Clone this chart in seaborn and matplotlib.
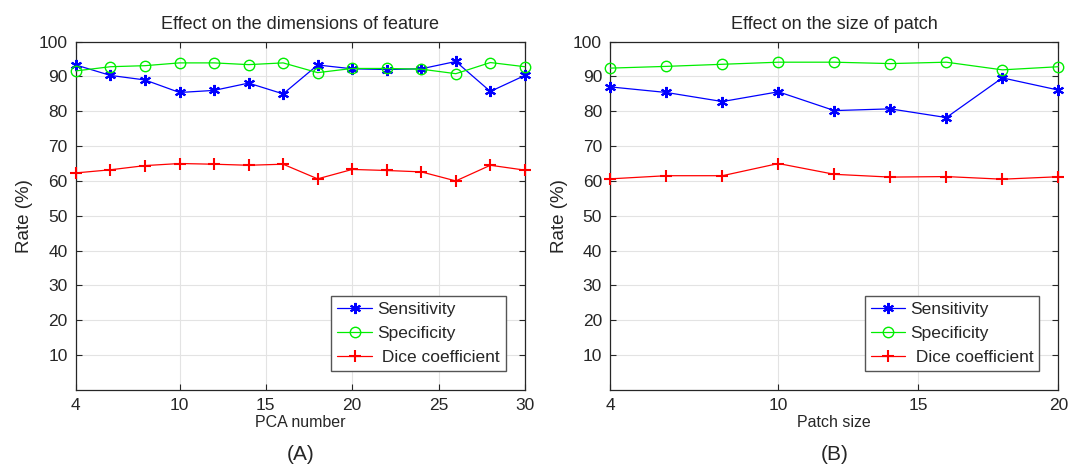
import numpy as np
import pandas as pd
import matplotlib
matplotlib.use("Agg")
import matplotlib.pyplot as plt
import seaborn as sns

# Values
pca_number = [4, 6, 8, 10, 12, 14, 16, 18, 20, 22, 24, 26, 28, 30]
pca_sensitivity = [93.3, 90.3, 89.0, 85.4, 86.0, 88.1, 85.0, 93.3, 92.2, 92.0, 92.2, 94.3, 85.7, 90.3]
pca_specificity = [91.6, 92.8, 93.1, 93.9, 93.9, 93.4, 93.9, 91.1, 92.3, 92.3, 92.1, 90.8, 94.0, 92.8]
pca_dice = [62.3, 63.2, 64.4, 65.0, 64.8, 64.5, 64.8, 60.6, 63.3, 63.0, 62.6, 60.0, 64.5, 63.1]

patch_size = [4, 6, 8, 10, 12, 14, 16, 18, 20]
patch_sensitivity = [87.0, 85.4, 82.8, 85.6, 80.2, 80.7, 78.2, 89.6, 86.1]
patch_specificity = [92.4, 92.9, 93.5, 94.1, 94.1, 93.7, 94.1, 91.9, 92.8]
patch_dice = [60.6, 61.5, 61.5, 65.0, 61.9, 61.1, 61.25, 60.5, 61.2]

series_names = ["Sensitivity", "Specificity", " Dice coefficient"]
pca_ticks = [4, 10, 15, 20, 25, 30]
patch_ticks = [4, 10, 15, 20]
rate_ticks = [10, 20, 30, 40, 50, 60, 70, 80, 90, 100]

sns.set_style("ticks")
plt.rcParams["font.family"] = ["Liberation Sans", "DejaVu Sans"]

fig = plt.figure(figsize=(10.69, 4.68), dpi=100)
ax_a = fig.add_axes([0.071, 0.167, 0.420, 0.744])
ax_b = fig.add_axes([0.571, 0.167, 0.419, 0.744])

styles = [
    dict(color="#0000ff", marker=(6, 2, 0), markersize=8, markeredgewidth=1.5,
         markeredgecolor="#0000ff"),
    dict(color="#00ee00", marker="o", markersize=7.5, markerfacecolor="none",
         markeredgewidth=1.0, markeredgecolor="#00ee00"),
    dict(color="#ff0000", marker="+", markersize=9, markeredgewidth=1.5,
         markeredgecolor="#ff0000"),
]


def draw_panel(ax, x, sens, spec, dice, ticks, title, xlabel, tag):
    df = pd.DataFrame({"x": x, series_names[0]: sens, series_names[1]: spec, series_names[2]: dice})
    for name, st in zip(series_names, styles):
        sns.lineplot(data=df, x="x", y=name, ax=ax, label=name, linewidth=0.9,
                     clip_on=False, zorder=3, **st)
    ax.set_xlim(x[0], x[-1])
    ax.set_ylim(0, 100)
    ax.set_xticks(ticks)
    ax.set_yticks(rate_ticks)
    ax.grid(True, color="#e3e3e3", linewidth=0.8)
    ax.set_axisbelow(True)
    ax.tick_params(direction="in", top=True, right=True, labelsize=12.5, length=4,
                   color="#262626", pad=6)
    for sp in ax.spines.values():
        sp.set_color("#262626")
        sp.set_linewidth(0.9)
    ax.set_title(title, fontsize=13, pad=9)
    ax.set_xlabel(xlabel, fontsize=11.5, labelpad=1)
    ax.set_ylabel("Rate (%)", fontsize=13.5, labelpad=4)
    leg = ax.legend(loc="lower right", fontsize=12.5, frameon=True, fancybox=False,
                    edgecolor="#555555", framealpha=1, handlelength=2.0,
                    borderaxespad=1.1, labelspacing=0.5, handletextpad=0.3,
                    borderpad=0.35)
    leg.get_frame().set_linewidth(1.0)
    leg.set_zorder(5)
    ax.text(0.5, -0.185, tag, transform=ax.transAxes, ha="center", va="center", fontsize=15)


draw_panel(ax_a, pca_number, pca_sensitivity, pca_specificity, pca_dice,
           pca_ticks, "Effect on the dimensions of feature", "PCA number", "(A)")
draw_panel(ax_b, patch_size, patch_sensitivity, patch_specificity, patch_dice,
           patch_ticks, "Effect on the size of patch", "Patch size", "(B)")

fig.savefig("out.png", dpi=100)
